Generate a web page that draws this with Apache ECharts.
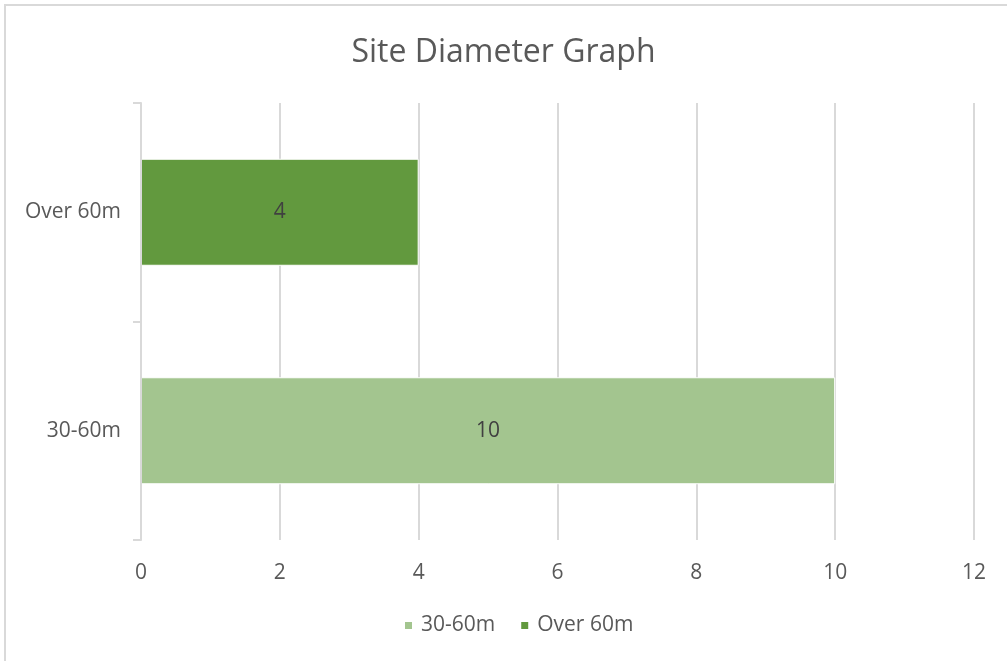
<!DOCTYPE html>
<html>
<head>
<meta charset="utf-8">
<script src="https://cdn.jsdelivr.net/npm/echarts@6/dist/echarts.min.js"></script>
<style>
  html, body { margin: 0; padding: 0; background: #fff; }
  #frame { position: absolute; left: 4px; top: 4px; width: 1010px; height: 670px;
           border-left: 2px solid #d9d9d9; border-top: 2px solid #d9d9d9; }
  #chart { position: absolute; left: 0; top: 0; width: 1007px; height: 661px; }
</style>
</head>
<body>
<div id="frame"></div>
<div id="chart"></div>
<script>
// Site diameter counts by size class
const categories = ['30-60m', 'Over 60m'];
const seriesNames = ['30-60m', 'Over 60m'];
const smallSites = [10, null];
const largeSites = [null, 4];
const xTicks = { min: 0, max: 12, interval: 2 };

const FONT = '"Open Sans", "Noto Sans", sans-serif';
const TEXT = '#595959';

const chart = echarts.init(document.getElementById('chart'), null, { renderer: 'canvas' });

const barCommon = {
  type: 'bar',
  stack: 'sites',
  barWidth: 107,
  itemStyle: { borderColor: '#ffffff', borderWidth: 1 },
  label: {
    show: true,
    position: 'inside',
    color: '#404040',
    fontSize: 21,
    fontFamily: FONT
  },
  emphasis: { disabled: true }
};

chart.setOption({
  animation: false,
  backgroundColor: 'transparent',
  title: {
    text: 'Site Diameter Graph',
    left: 'center',
    top: 32,
    textStyle: { color: TEXT, fontSize: 32, fontWeight: 'normal', fontFamily: FONT }
  },
  legend: {
    bottom: 20,
    left: 398,
    icon: 'rect',
    itemWidth: 9,
    itemHeight: 9,
    itemGap: 24,
    textStyle: { color: TEXT, fontSize: 21, fontFamily: FONT, padding: [0, 0, 0, 3] },
    data: seriesNames
  },
  grid: { left: 141, right: 33, top: 103, bottom: 121, containLabel: false },
  xAxis: {
    type: 'value',
    min: xTicks.min,
    max: xTicks.max,
    interval: xTicks.interval,
    axisLine: { show: false },
    axisTick: { show: false },
    axisLabel: { color: TEXT, fontSize: 21, fontFamily: FONT, margin: 23 },
    splitLine: { show: true, lineStyle: { color: '#d9d9d9', width: 2 } }
  },
  yAxis: {
    type: 'category',
    data: categories,
    z: 5,
    axisLine: { show: true, lineStyle: { color: '#d9d9d9', width: 2 } },
    axisTick: { show: true, length: 8, lineStyle: { color: '#d9d9d9', width: 2 } },
    axisLabel: { color: TEXT, fontSize: 21, fontFamily: FONT, margin: 20 }
  },
  series: [
    Object.assign({}, barCommon, { name: seriesNames[0], data: smallSites, itemStyle: Object.assign({}, barCommon.itemStyle, { color: '#a3c58f' }) }),
    Object.assign({}, barCommon, { name: seriesNames[1], data: largeSites, itemStyle: Object.assign({}, barCommon.itemStyle, { color: '#62993e' }) })
  ]
});
</script>
</body>
</html>
